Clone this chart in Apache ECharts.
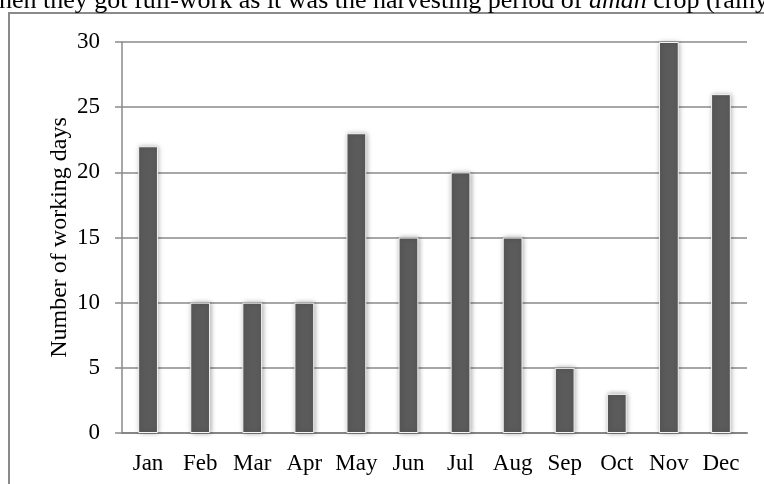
<!DOCTYPE html>
<html>
<head>
<meta charset="utf-8">
<script src="https://cdn.jsdelivr.net/npm/echarts@6/dist/echarts.min.js"></script>
<style>
	html, body { margin: 0; padding: 0; background: #fff; }
	#chart { width: 764px; height: 484px; }
</style>
</head>
<body>
<div id="chart"></div>
<script>
const months = ['Jan', 'Feb', 'Mar', 'Apr', 'May', 'Jun', 'Jul', 'Aug', 'Sep', 'Oct', 'Nov', 'Dec']
const workingDays = [22, 10, 10, 10, 23, 15, 20, 15, 5, 3, 30, 26]
const yTicks = [0, 5, 10, 15, 20, 25, 30]

const font = "'Liberation Serif', 'Times New Roman', serif"
const myChart = echarts.init(document.getElementById('chart'))

myChart.setOption({
	animation: false,
	grid: { left: 122, right: 17, top: 42, bottom: 51 },
	graphic: [
		// frame of the figure, cut by the page
		{
			type: 'rect',
			shape: { x: 9, y: 13, width: 900, height: 600 },
			style: { fill: 'none', stroke: '#8a8a8a', lineWidth: 2 }
		},
		// end of the paragraph above the figure
		{
			type: 'text',
			style: {
				x: -1,
				y: 14,
				verticalAlign: 'bottom',
				text: '{n|hen they got full-work as it was the harvesting period of }{i|aman}{n| crop (rainy}',
				rich: {
					n: { fontFamily: font, fontSize: 26, fill: '#000' },
					i: { fontFamily: font, fontSize: 26, fontStyle: 'italic', fill: '#000' }
				}
			}
		}
	],
	xAxis: {
		type: 'category',
		data: months,
		axisLine: { lineStyle: { color: '#868686', width: 2 } },
		axisTick: { show: false },
		axisLabel: { color: '#000', fontFamily: font, fontSize: 23, margin: 19, interval: 0 }
	},
	yAxis: {
		type: 'value',
		min: yTicks[0],
		max: yTicks[yTicks.length - 1],
		interval: 5,
		name: 'Number of working days',
		nameLocation: 'middle',
		nameGap: 50,
		nameMoveOverlap: false,
		nameTextStyle: { color: '#000', fontFamily: font, fontSize: 24 },
		axisLine: { show: true, lineStyle: { color: '#8a8a8a', width: 1.5 } },
		axisTick: { show: true, length: 7, lineStyle: { color: '#8a8a8a', width: 1.5 } },
		splitLine: { lineStyle: { color: '#8a8a8a', width: 1.5 } },
		axisLabel: { color: '#000', fontFamily: font, fontSize: 23, margin: 22 }
	},
	series: [
		{
			type: 'bar',
			data: workingDays,
			barWidth: '38%',
			itemStyle: {
				color: '#5b5b5b',
				borderColor: '#f4f4f4',
				borderWidth: 1,
				shadowBlur: 5,
				shadowColor: 'rgba(0, 0, 0, 0.35)',
				shadowOffsetX: 1
			}
		}
	]
})
</script>
</body>
</html>
